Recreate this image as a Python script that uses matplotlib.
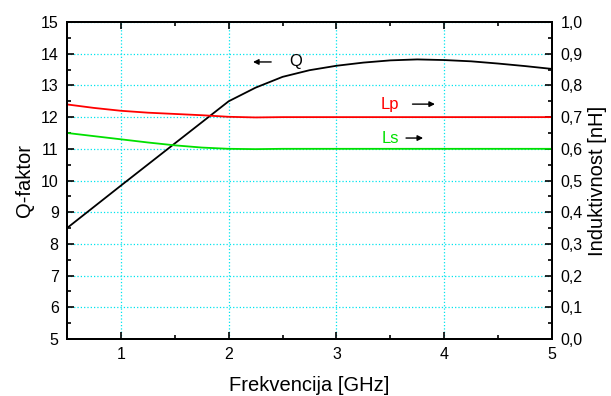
import matplotlib.pyplot as plt
from matplotlib.ticker import MultipleLocator, FuncFormatter

plt.rcParams['font.family'] = ['Liberation Sans', 'DejaVu Sans']

# Q-factor vs frequency
freq_q = [0.5, 1.0, 1.5, 2.0, 2.25, 2.5, 2.75, 3.0, 3.25, 3.5, 3.75, 4.0, 4.25, 4.5, 4.75, 5.0]
q_factor = [8.5, 9.84, 11.17, 12.5, 12.93, 13.27, 13.48, 13.62, 13.72, 13.79, 13.82, 13.8, 13.76, 13.69, 13.61, 13.52]

# Inductance vs frequency (nH)
freq_l = [0.5, 0.75, 1.0, 1.25, 1.5, 1.75, 2.0, 2.25, 2.5, 3.0, 3.5, 4.0, 4.5, 5.0]
lp = [0.74, 0.729, 0.72, 0.714, 0.71, 0.706, 0.701, 0.699, 0.700, 0.700, 0.700, 0.700, 0.700, 0.700]
ls = [0.65, 0.64, 0.63, 0.62, 0.611, 0.604, 0.600, 0.599, 0.600, 0.600, 0.600, 0.600, 0.600, 0.600]

fig = plt.figure(figsize=(6.11, 3.96), dpi=100)
ax = fig.add_axes([0.1097, 0.1439, 0.7937, 0.8005])
ax2 = ax.twinx()

ax.plot(freq_q, q_factor, color='black', lw=1.3, zorder=3)
ax2.plot(freq_l, lp, color='#ff0000', lw=1.3)
ax2.plot(freq_l, ls, color='#00e000', lw=1.3)

ax.set_xlim(0.5, 5)
ax.set_ylim(5, 15)
ax2.set_ylim(0, 1.0)

ax.xaxis.set_major_locator(MultipleLocator(1))
ax.xaxis.set_minor_locator(MultipleLocator(0.5))
ax.yaxis.set_major_locator(MultipleLocator(1))
ax.yaxis.set_minor_locator(MultipleLocator(0.5))
ax2.yaxis.set_major_locator(MultipleLocator(0.1))
ax2.yaxis.set_minor_locator(MultipleLocator(0.05))
ax2.yaxis.set_major_formatter(FuncFormatter(lambda v, p: f'{v:.1f}'.replace('.', ',')))

for a in (ax, ax2):
    a.tick_params(which='both', direction='in', top=True, labelsize=11.5, width=1.2)
    a.tick_params(which='major', length=5)
    a.tick_params(which='minor', length=3)
    for s in a.spines.values():
        s.set_linewidth(1.4)
ax.tick_params(axis='x', pad=6)
ax.tick_params(axis='y', pad=6)
ax2.tick_params(axis='y', pad=6)

ax.grid(True, which='major', color='#00e5ee', linestyle=':', lw=0.9)
ax.set_axisbelow(True)

ax.set_xlabel('Frekvencija [GHz]', fontsize=14.5, labelpad=10)
ax.set_ylabel('Q-faktor', fontsize=14.5, labelpad=5)
ax2.set_ylabel('Induktivnost [nH]', fontsize=14.5, labelpad=4)

arrow = dict(arrowstyle='-|>', color='black', lw=1, mutation_scale=8)
ax.annotate('', xy=(2.2, 13.74), xytext=(2.42, 13.74), arrowprops=arrow)
ax.text(2.56, 13.74, 'Q', fontsize=12, va='center', ha='left')
ax.text(3.5, 12.41, 'Lp', fontsize=12, color='#ff0000', va='center', ha='center')
ax.annotate('', xy=(3.94, 12.41), xytext=(3.68, 12.41), arrowprops=arrow)
ax.text(3.5, 11.34, 'Ls', fontsize=12, color='#00e000', va='center', ha='center')
ax.annotate('', xy=(3.83, 11.34), xytext=(3.62, 11.34), arrowprops=arrow)

fig.savefig('out.png', dpi=100)
